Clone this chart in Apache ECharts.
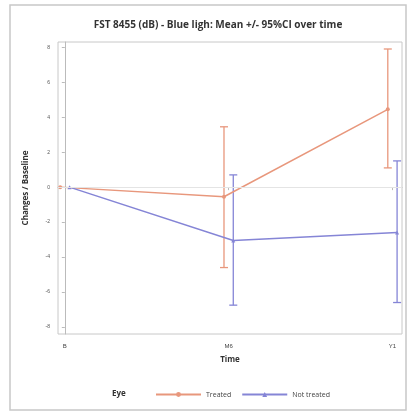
<!DOCTYPE html>
<html><head><meta charset="utf-8">
<script src="https://cdn.jsdelivr.net/npm/echarts@6/dist/echarts.min.js"></script>
<style>html,body{margin:0;padding:0;background:#fff}#c{width:409px;height:413px}</style>
</head><body><div id="c"></div>
<script>
var timeLabels = ['B', 'M6', 'Y1'];
var timePos = [0, 6, 12];
var treatedMean = [0, -0.55, 4.45];
var treatedLow = [0, -4.6, 1.1];
var treatedHigh = [0, 3.45, 7.9];
var notTreatedMean = [0, -3.05, -2.6];
var notTreatedLow = [0, -6.75, -6.6];
var notTreatedHigh = [0, 0.7, 1.5];
var yTicks = [-8, -6, -4, -2, 0, 2, 4, 6, 8];
var dodge = 0.17;

var cT = '#e8977c', cN = '#8585d6';
function pts(mean, off){ return timePos.map(function(t,i){ return [t+off, mean[i]]; }); }
function bars(lo, hi, off){ return timePos.map(function(t,i){ return [t+off, lo[i], hi[i]]; }); }
function errRender(color){
  return function(params, api){
    var x = api.value(0), lo = api.value(1), hi = api.value(2);
    if (lo === hi) return null;
    var p1 = api.coord([x, lo]), p2 = api.coord([x, hi]);
    var st = {stroke: color, lineWidth: 1.3};
    return {type:'group', children:[
      {type:'line', shape:{x1:p1[0],y1:p1[1],x2:p2[0],y2:p2[1]}, style:st},
      {type:'line', shape:{x1:p1[0]-4,y1:p1[1],x2:p1[0]+4,y2:p1[1]}, style:st},
      {type:'line', shape:{x1:p2[0]-4,y1:p2[1],x2:p2[0]+4,y2:p2[1]}, style:st}
    ]};
  };
}
var chart = echarts.init(document.getElementById('c'));
chart.setOption({
  animation:false,
  title:{text:'FST 8455 (dB) - Blue ligh: Mean +/- 95%CI over time', left:213, textAlign:'center', top:15,
    textStyle:{fontSize:10, fontWeight:'bold', color:'#333', fontFamily:'Open Sans'}},
  graphic:[
    {type:'rect', shape:{x:10,y:5,width:396,height:405}, style:{fill:'none', stroke:'#c8c8c8', lineWidth:1.5}},
    {type:'text', left:112, top:390, style:{text:'Eye', font:'bold 8px "Open Sans"', fill:'#333'}}
  ],
  legend:{left:150, top:386, itemWidth:45, itemHeight:6, itemGap:10,
    textStyle:{fontSize:7, color:'#444', fontFamily:'Open Sans'},
    data:['Treated','Not treated']},
  grid:{left:58, right:7, top:42, bottom:79, show:true, borderColor:'#c8c8c8', borderWidth:1},
  xAxis:{type:'value', min:-0.25, max:12.35,
    name:'Time', nameLocation:'middle', nameGap:22,
    nameTextStyle:{fontSize:8, fontWeight:'bold', color:'#333', fontFamily:'Open Sans'},
    axisLine:{show:true, lineStyle:{color:'#bbb'}},
    axisTick:{show:true, customValues:timePos, length:3, lineStyle:{color:'#bbb'}},
    axisLabel:{customValues:timePos, fontSize:6, color:'#444', margin:9,
      formatter:function(v){ var i = timePos.indexOf(v); return i>=0 ? timeLabels[i] : ''; }},
    splitLine:{show:false}},
  yAxis:{type:'value', min:-8.4, max:8.3,
    name:'Changes / Baseline', nameLocation:'middle', nameGap:28,
    nameTextStyle:{fontSize:8, fontWeight:'bold', color:'#333', fontFamily:'Open Sans'},
    axisLine:{show:true, lineStyle:{color:'#bbb'}},
    axisTick:{show:true, customValues:yTicks, length:3, lineStyle:{color:'#bbb'}},
    axisLabel:{customValues:yTicks, fontSize:5, color:'#555', margin:8},
    splitLine:{show:false}},
  series:[
    {name:'Treated', type:'line', data:pts(treatedMean,-dodge), color:cT,
      lineStyle:{width:1.5, color:cT}, symbol:'circle', symbolSize:4, itemStyle:{color:cT}, z:3,
      markLine:{silent:true, symbol:'none', label:{show:false}, lineStyle:{color:'#e4e4e4', type:'solid', width:1},
        data:[{yAxis:0}]}},
    {name:'Not treated', type:'line', data:pts(notTreatedMean,dodge), color:cN,
      lineStyle:{width:1.5, color:cN}, symbol:'triangle', symbolSize:4, itemStyle:{color:cN}, z:3},
    {type:'custom', renderItem:errRender(cT), data:bars(treatedLow,treatedHigh,-dodge), z:2},
    {type:'custom', renderItem:errRender(cN), data:bars(notTreatedLow,notTreatedHigh,dodge), z:2}
  ]
});
</script></body></html>
